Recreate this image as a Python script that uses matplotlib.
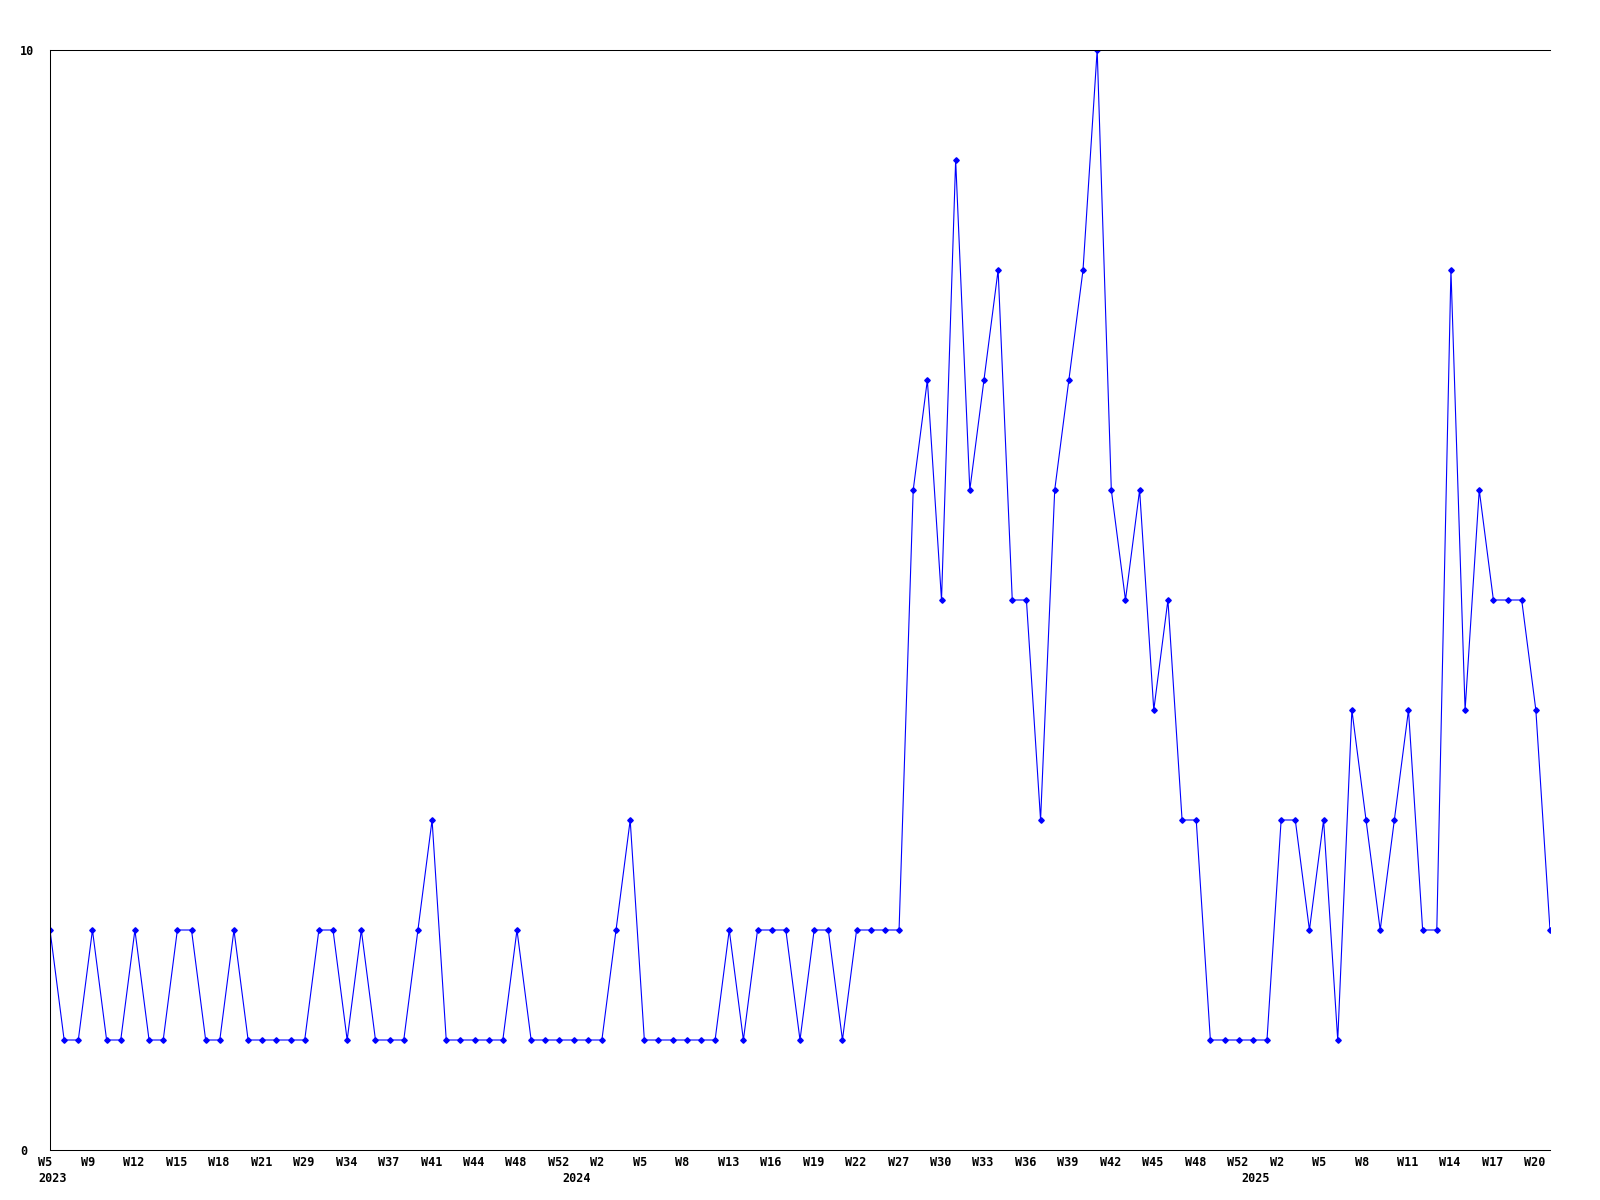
import matplotlib
matplotlib.use("Agg")
import matplotlib.pyplot as plt
import matplotlib.transforms as mtransforms
import numpy as np

# weekly counts, one per point (x is just the position in the series)
counts = [2, 1, 1, 2, 1, 1, 2, 1, 1, 2, 2, 1, 1, 2, 1, 1, 1, 1, 1, 2,
          2, 1, 2, 1, 1, 1, 2, 3, 1, 1, 1, 1, 1, 2, 1, 1, 1, 1, 1, 1,
          2, 3, 1, 1, 1, 1, 1, 1, 2, 1, 2, 2, 2, 1, 2, 2, 1, 2, 2, 2,
          2, 6, 7, 5, 9, 6, 7, 8, 5, 5, 3, 6, 7, 8, 10, 6, 5, 6, 4, 5,
          3, 3, 1, 1, 1, 1, 1, 3, 3, 2, 3, 1, 4, 3, 2, 3, 4, 2, 2, 8,
          4, 6, 5, 5, 5, 4, 2]

# a week label on every third point
week_labels = ["W5", "W9", "W12", "W15", "W18", "W21", "W29", "W34", "W37",
               "W41", "W44", "W48", "W52", "W2", "W5", "W8", "W13", "W16",
               "W19", "W22", "W27", "W30", "W33", "W36", "W39", "W42", "W45",
               "W48", "W52", "W2", "W5", "W8", "W11", "W14", "W17", "W20"]
label_step = 3

years = ["2023", "2024", "2025"]
year_pos = [0, 37, 85]

font = "DejaVu Sans Mono"

fig = plt.figure(figsize=(16, 12), dpi=100)
ax = fig.add_axes([50 / 1600, 50 / 1200, 1500 / 1600, 1100 / 1200])

x = np.arange(len(counts))
ax.plot(x, counts, color=(0, 0, 1), lw=0.8, marker="D", ms=2.8,
        mec=(0, 0, 1), mfc=(0, 0, 1))

ax.set_xlim(0, len(counts) - 1)
ax.set_ylim(0, 10)

for s in ["left", "bottom", "top"]:
    ax.spines[s].set_linewidth(0.75)
    ax.spines[s].set_color("black")
ax.spines["right"].set_visible(False)

ax.set_yticks([0, 10])
ax.set_yticklabels(["0", "10"], fontfamily=font, fontweight="bold",
                   fontsize=8.5, ha="left")
ax.tick_params(axis="y", length=0, pad=21.6)

# labels start a little left of their point
ax.set_xticks(x[::label_step][:len(week_labels)])
ax.set_xticklabels(week_labels, fontfamily=font, fontweight="bold",
                   fontsize=8.5, ha="left")
ax.tick_params(axis="x", length=0, pad=4.5)
shift = mtransforms.ScaledTranslation(-11.5 / 100, 0, fig.dpi_scale_trans)
for lab in ax.get_xticklabels():
    lab.set_transform(lab.get_transform() + shift)

trans = mtransforms.blended_transform_factory(ax.transData, ax.transAxes)
yshift = mtransforms.ScaledTranslation(-11.5 / 100, -22 / 100, fig.dpi_scale_trans)
for yr, p in zip(years, year_pos):
    ax.text(p, 0, yr, transform=trans + yshift, ha="left", va="top",
            fontfamily=font, fontweight="bold", fontsize=8.5)

fig.savefig("out.png", dpi=100, facecolor="white")
